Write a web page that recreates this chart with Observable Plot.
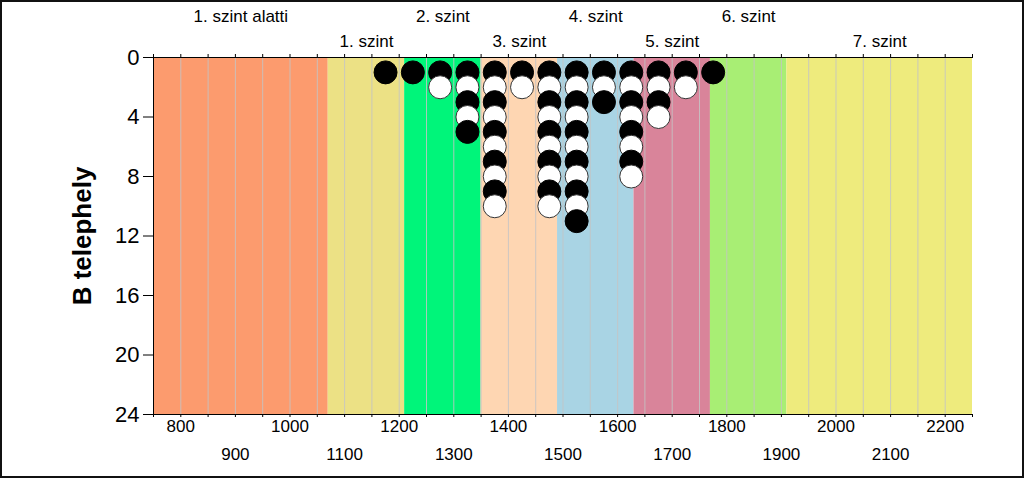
<!DOCTYPE html>
<html>
<head>
<meta charset="utf-8">
<script src="https://cdn.jsdelivr.net/npm/d3@7"></script>
<script src="https://cdn.jsdelivr.net/npm/@observablehq/plot@0.6"></script>
<style>
  html, body { margin: 0; padding: 0; background: #fff; }
  #wrap { position: relative; width: 1024px; height: 478px; overflow: hidden; background: #fff; }
  #frame { position: absolute; left: 0; top: 0; width: 1024px; height: 478px; box-sizing: border-box; border: 2px solid #111; pointer-events: none; }
</style>
</head>
<body>
<div id="wrap"><div id="frame"></div></div>
<script>
const bandNames = ["1. szint alatti", "1. szint", "2. szint", "3. szint", "4. szint", "5. szint", "6. szint", "7. szint"];
const bandStarts = [750, 1070, 1210, 1350, 1490, 1630, 1770, 1910];
const bandEnds = [1070, 1210, 1350, 1490, 1630, 1770, 1910, 2250];
const bandColors = ["#FC9B6E", "#ECE185", "#00F57A", "#FED6B2", "#A9D4E4", "#D9849A", "#A8EE74", "#EEEB7D"];

const binCenters = [1175, 1225, 1275, 1325, 1375, 1425, 1475, 1525, 1575, 1625, 1675, 1725, 1775];
const counts = [1, 1, 2, 5, 10, 2, 10, 11, 3, 8, 4, 2, 1];

const yTicks = [0, 4, 8, 12, 16, 20, 24];
const xMinorTicks = d3.range(750, 2251, 50);
const gridTicks = d3.range(800, 2201, 50);
const xLabelsRow1 = [800, 1000, 1200, 1400, 1600, 1800, 2000, 2200];
const xLabelsRow2 = [900, 1100, 1300, 1500, 1700, 1900, 2100];

const bands = bandNames.map((name, i) => ({
  name, start: bandStarts[i], end: bandEnds[i], color: bandColors[i],
  mid: (bandStarts[i] + bandEnds[i]) / 2, row: i % 2
}));

const dots = [];
binCenters.forEach((x, i) => {
  for (let k = 1; k <= counts[i]; k++) {
    dots.push({x, y: k, color: k % 2 === 1 ? "#000" : "#fff"});
  }
});

const font = "'Liberation Sans', Arial, Helvetica, sans-serif";

const chart = Plot.plot({
  width: 1024,
  height: 478,
  marginLeft: 153,
  marginRight: 52,
  marginTop: 57,
  marginBottom: 64,
  style: {fontFamily: font, fontSize: "17px", background: "transparent", color: "#000", overflow: "visible"},
  x: {domain: [750, 2250]},
  y: {domain: [0, 24], reverse: true},
  color: {type: "identity"},
  marks: [
    Plot.rect(bands, {x1: "start", x2: "end", y1: 0, y2: 24, fill: "color"}),
    Plot.ruleX(gridTicks, {stroke: "#c4c4c4", strokeOpacity: 0.85, strokeWidth: 1}),
    Plot.dot(dots, {x: "x", y: "y", r: 11.5, fill: "color", stroke: d => d.color === "#000" ? "#000" : "#333", strokeWidth: 1}),
    Plot.ruleY([0], {stroke: "#000", strokeWidth: 1}),
    Plot.ruleY([24], {stroke: "#000", strokeWidth: 1}),
    Plot.ruleX([750], {stroke: "#000", strokeWidth: 1}),
    Plot.axisX({anchor: "top", ticks: xMinorTicks, tickSize: 4, tickFormat: () => "", label: null}),
    Plot.axisX({anchor: "bottom", ticks: xMinorTicks, tickSize: 3, tickFormat: () => "", label: null}),
    Plot.axisX({anchor: "bottom", ticks: xLabelsRow1, tickSize: 0, tickPadding: 5, tickFormat: d => String(d), fontSize: 17, label: null}),
    Plot.axisX({anchor: "bottom", ticks: xLabelsRow2, tickSize: 0, tickPadding: 33, tickFormat: d => String(d), fontSize: 17, label: null}),
    Plot.axisY({anchor: "left", ticks: yTicks, tickSize: 10, tickPadding: 4, tickFormat: d => String(d), fontSize: 22, label: null}),
    Plot.text(bands.filter(d => d.row === 0), {x: "mid", y: 0, dy: -41, text: "name", fontSize: 17, lineAnchor: "middle", textAnchor: "middle"}),
    Plot.text(bands.filter(d => d.row === 1), {x: "mid", y: 0, dy: -16, text: "name", fontSize: 17, lineAnchor: "middle", textAnchor: "middle"}),
    Plot.text(["B telephely"], {frameAnchor: "left", dx: -71, rotate: -90, text: d => d, fontSize: 26, fontWeight: "bold", lineAnchor: "middle", textAnchor: "middle"})
  ]
});

document.getElementById("wrap").insertBefore(chart, document.getElementById("frame"));
</script>
</body>
</html>
